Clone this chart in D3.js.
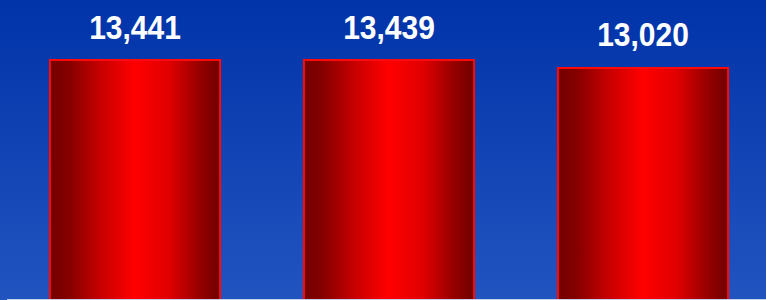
<!DOCTYPE html>
<html>
<head>
<meta charset="utf-8">
<script src="https://cdn.jsdelivr.net/npm/d3@7"></script>
<style>
  html, body { margin: 0; padding: 0; background: #0a3aae; }
  svg { display: block; }
</style>
</head>
<body>
<svg id="chart" width="766" height="300"></svg>
<script>
const categories = ["A", "B", "C"];
const values = [13441, 13439, 13020];
const labels = ["13,441", "13,439", "13,020"];

const width = 766, height = 300;
const svg = d3.select("#chart");
const defs = svg.append("defs");

// background
const bg = defs.append("linearGradient").attr("id", "bg")
    .attr("x1", 0).attr("y1", 0).attr("x2", 0).attr("y2", 1);
bg.append("stop").attr("offset", "0%").attr("stop-color", "#0133a9");
bg.append("stop").attr("offset", "100%").attr("stop-color", "#2254c0");
svg.append("rect").attr("width", width).attr("height", height).attr("fill", "url(#bg)");

// bar shading, dark edges, bright middle
const barGrad = defs.append("linearGradient").attr("id", "barGrad")
    .attr("x1", 0).attr("y1", 0).attr("x2", 1).attr("y2", 0);
[["0%", "#720000"], ["12%", "#880000"], ["30%", "#c80000"], ["50%", "#ff0000"],
 ["70%", "#e00000"], ["88%", "#960000"], ["100%", "#700000"]]
    .forEach(([o, c]) => barGrad.append("stop").attr("offset", o).attr("stop-color", c));

const x = d3.scaleBand().domain(categories).range([8, 770])
    .paddingInner(0.33).paddingOuter(0.165);
const y = d3.scaleLinear().domain([0, 13441]).range([315, 60]);

const bars = svg.append("g").attr("id", "bars");
bars.selectAll("rect").data(values).join("rect")
    .attr("x", (d, i) => x(categories[i]))
    .attr("y", d => y(d))
    .attr("width", x.bandwidth())
    .attr("height", d => y(0) - y(d))
    .attr("fill", "url(#barGrad)")
    .attr("stroke", "#ff0a0a")
    .attr("stroke-width", 2);

// labels are a little taller than plain Arial, so stretch them vertically
svg.append("g").attr("id", "labels").selectAll("text").data(values).join("text")
    .attr("transform", (d, i) =>
        `translate(${x(categories[i]) + x.bandwidth() / 2},${y(d) - 21.5}) scale(1,1.09)`)
    .attr("text-anchor", "middle")
    .attr("fill", "#ffffff")
    .attr("font-family", "Liberation Sans, Arial, sans-serif")
    .attr("font-weight", "bold")
    .attr("font-size", 30)
    .text((d, i) => labels[i]);

// bottom edge of plot area
svg.append("line")
    .attr("x1", 7).attr("x2", width).attr("y1", 299.5).attr("y2", 299.5)
    .attr("stroke", "#c9d2ea").attr("stroke-width", 1);
</script>
</body>
</html>
